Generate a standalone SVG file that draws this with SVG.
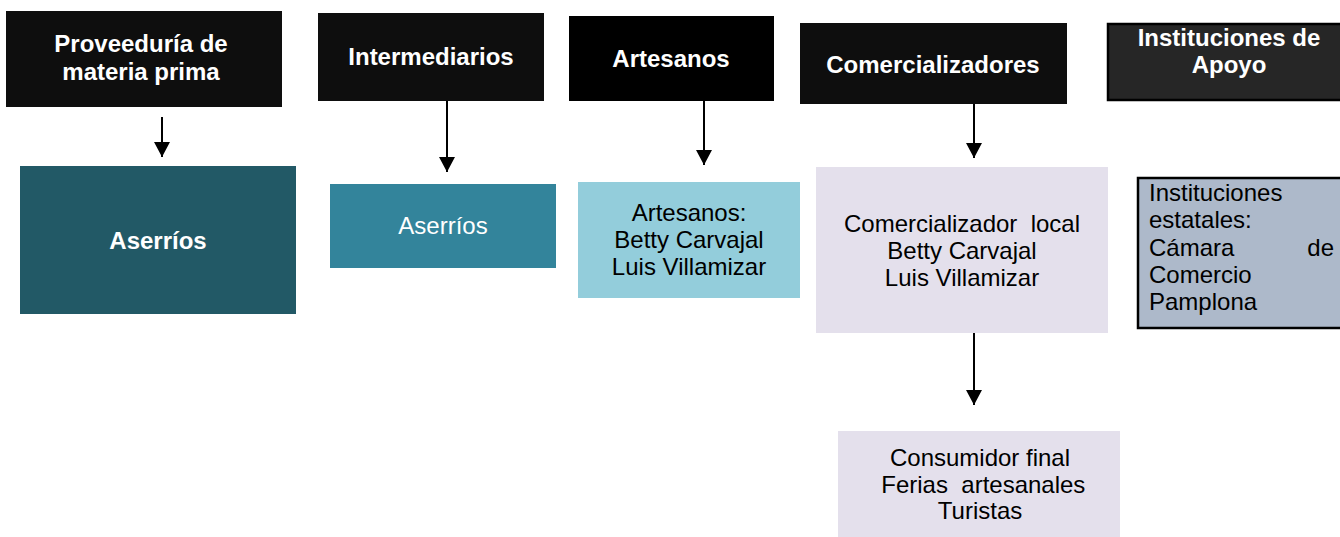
<svg xmlns="http://www.w3.org/2000/svg" width="1340" height="537" viewBox="0 0 1340 537">
<style>
.hdr{fill:#0e0e0e}
.ht{fill:#fff;font-family:"Liberation Sans",Arial,sans-serif;font-weight:bold;font-size:24px;text-anchor:middle}
.bt{fill:#000;font-family:"Liberation Sans",Arial,sans-serif;font-size:24px;text-anchor:middle}
.lt{fill:#000;font-family:"Liberation Sans",Arial,sans-serif;font-size:24px;text-anchor:start}
.cn line{stroke:#000;stroke-width:2}
</style>
<defs>
<marker id="arr" viewBox="0 0 15 16" refX="15" refY="8" markerWidth="15" markerHeight="16" markerUnits="userSpaceOnUse" orient="auto">
<path d="M0,0 L15,8 L0,16 z" fill="#000"/>
</marker>
</defs>
<rect width="1340" height="537" fill="#fff"/>
<g id="h1"><rect class="hdr" x="6" y="11" width="276" height="96"/><text class="ht" x="141" y="52">Proveeduría de</text><text class="ht" x="141" y="80">materia prima</text></g>
<g id="h2"><rect class="hdr" x="318" y="13" width="226" height="88"/><text class="ht" x="431" y="65">Intermediarios</text></g>
<g id="h3"><rect fill="#000" x="569" y="16" width="205" height="85"/><text class="ht" x="671" y="67">Artesanos</text></g>
<g id="h4"><rect class="hdr" x="800" y="23" width="267" height="81"/><text class="ht" x="933" y="73">Comercializadores</text></g>
<g id="h5"><rect fill="#262626" stroke="#000" stroke-width="2.5" x="1108" y="24" width="236" height="76"/><text class="ht" x="1229" y="46">Instituciones de</text><text class="ht" x="1229" y="73">Apoyo</text></g>
<g id="n1"><rect fill="#225966" x="20" y="166" width="276" height="148"/><text class="ht" x="158" y="249">Aserríos</text></g>
<g id="n2"><rect fill="#33849b" x="330" y="184" width="226" height="84"/><text fill="#fff" font-family="'Liberation Sans',Arial,sans-serif" font-size="24" text-anchor="middle" x="443" y="234">Aserríos</text></g>
<g id="n3"><rect fill="#93cddb" x="578" y="182" width="222" height="116"/><text class="bt" x="689" y="221">Artesanos:</text><text class="bt" x="689" y="248">Betty Carvajal</text><text class="bt" x="689" y="275">Luis Villamizar</text></g>
<g id="n4"><rect fill="#e4e0ec" x="816" y="167" width="292" height="166"/><text class="bt" x="962" y="232" xml:space="preserve">Comercializador  local</text><text class="bt" x="962" y="259">Betty Carvajal</text><text class="bt" x="962" y="286">Luis Villamizar</text></g>
<g id="n5"><rect fill="#e4e0ec" x="838" y="431" width="282" height="106"/><text class="bt" x="980" y="466">Consumidor final</text><text class="bt" x="980" y="493" xml:space="preserve"> Ferias  artesanales</text><text class="bt" x="980" y="519">Turistas</text></g>
<g id="n6"><rect fill="#adb9ca" stroke="#000" stroke-width="2.5" x="1138" y="178" width="206" height="150"/><text class="lt" x="1149" y="201">Instituciones</text><text class="lt" x="1149" y="228">estatales:</text><text class="lt" x="1149" y="256">Cámara</text><text class="lt" x="1334" y="256" style="text-anchor:end">de</text><text class="lt" x="1149" y="283">Comercio</text><text class="lt" x="1149" y="310">Pamplona</text></g>
<g id="connectors" class="cn">
<line x1="162" y1="117" x2="162" y2="157" marker-end="url(#arr)"/>
<line x1="447" y1="101" x2="447" y2="172" marker-end="url(#arr)"/>
<line x1="704" y1="101" x2="704" y2="165" marker-end="url(#arr)"/>
<line x1="974" y1="104" x2="974" y2="158" marker-end="url(#arr)"/>
<line x1="974" y1="333" x2="974" y2="405" marker-end="url(#arr)"/>
</g>
</svg>
